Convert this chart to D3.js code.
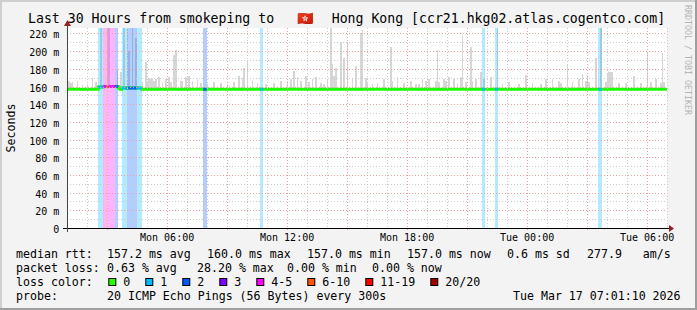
<!DOCTYPE html>
<html>
<head>
<meta charset="utf-8">
<script src="https://cdn.jsdelivr.net/npm/d3@7/dist/d3.min.js"></script>
<style>
  html, body { margin: 0; padding: 0; background: #f3f3f3; }
  svg { display: block; }
  text { font-family: "DejaVu Sans Mono", monospace; fill: #000; }
</style>
</head>
<body>
<svg id="canvas" width="697" height="310"></svg>
<script>
// --- data ---
const timeRange = ['Mon 01:01:10', 'Tue 07:01:10']
const xLabelTimes = ['Mon 06:00', 'Mon 12:00', 'Mon 18:00', 'Tue 00:00', 'Tue 06:00']
const yTicks = [0, 20, 40, 60, 80, 100, 120, 140, 160, 180, 200, 220]

const lossLabels = ['0', '1', '2', '3', '4-5', '6-10', '11-19', '20/20']
const lossColors = ['#26ff00', '#00b8ff', '#0059ff', '#7e00ff', '#ff00ff', '#ff5500', '#ff0000', '#a10000']

// median rtt (ms), in force from each time on
const medianFrom = ['Mon 01:01', 'Mon 02:35', 'Mon 02:50', 'Mon 03:35', 'Mon 03:40', 'Mon 03:45', 'Mon 04:45']
const medianMs = [157.0, 159.5, 160.0, 158.5, 157.0, 158.2, 157.0]

// 5 minute steps with lost pings (out of 20), time = end of step
const lossTimes = ['Mon 01:05', 'Mon 02:40', 'Mon 02:45', 'Mon 02:50', 'Mon 02:55', 'Mon 03:00', 'Mon 03:05',
  'Mon 03:10', 'Mon 03:15', 'Mon 03:20', 'Mon 03:25', 'Mon 03:30', 'Mon 03:35', 'Mon 03:50', 'Mon 03:55',
  'Mon 04:00', 'Mon 04:05', 'Mon 04:10', 'Mon 04:15', 'Mon 04:20', 'Mon 04:25', 'Mon 04:30', 'Mon 04:35',
  'Mon 04:40', 'Mon 04:45', 'Mon 07:55', 'Mon 08:00', 'Mon 10:45', 'Mon 10:50', 'Mon 21:50', 'Mon 21:55',
  'Mon 22:30', 'Mon 22:35', 'Tue 03:40', 'Tue 03:45']
const lossPings = [1, 1, 1, 1, 5, 5, 7,
  4, 4, 4, 4, 2, 2, 1, 1,
  1, 2, 2, 2, 2, 2, 2, 1,
  1, 1, 2, 2, 1, 1, 1, 1,
  1, 1, 1, 1]

// smoke: highest ping (ms) of the steps that rise visibly above the median
const smokeTimes = ['Mon 01:10', 'Mon 01:15', 'Mon 01:20', 'Mon 01:35', 'Mon 01:50', 'Mon 02:05', 'Mon 02:20',
  'Mon 02:30', 'Mon 02:45', 'Mon 03:05',
  'Mon 03:10', 'Mon 03:35', 'Mon 03:45', 'Mon 03:55', 'Mon 04:05', 'Mon 04:10', 'Mon 04:20', 'Mon 04:30',
  'Mon 04:50', 'Mon 05:00', 'Mon 05:05', 'Mon 05:10', 'Mon 05:15', 'Mon 05:20', 'Mon 05:25', 'Mon 05:30',
  'Mon 05:40', 'Mon 05:50', 'Mon 06:00', 'Mon 06:10', 'Mon 06:15', 'Mon 06:25',
  'Mon 06:30', 'Mon 06:45', 'Mon 06:50', 'Mon 07:00', 'Mon 07:10', 'Mon 07:20', 'Mon 07:35', 'Mon 07:45',
  'Mon 08:05', 'Mon 08:25', 'Mon 08:45', 'Mon 09:05', 'Mon 09:25', 'Mon 09:40', 'Mon 09:50', 'Mon 09:55',
  'Mon 10:05', 'Mon 10:20', 'Mon 10:35', 'Mon 11:00', 'Mon 11:25', 'Mon 11:45', 'Mon 12:05', 'Mon 12:15',
  'Mon 12:25', 'Mon 12:35', 'Mon 12:45', 'Mon 13:00', 'Mon 13:10', 'Mon 13:20', 'Mon 13:30', 'Mon 13:45',
  'Mon 13:55', 'Mon 14:05',
  'Mon 14:15', 'Mon 14:20', 'Mon 14:25', 'Mon 14:30', 'Mon 14:45', 'Mon 14:55', 'Mon 15:05', 'Mon 15:20',
  'Mon 15:30', 'Mon 15:45', 'Mon 15:50', 'Mon 16:00', 'Mon 16:05', 'Mon 16:20', 'Mon 16:35', 'Mon 16:55',
  'Mon 17:15', 'Mon 17:20', 'Mon 17:35', 'Mon 17:55', 'Mon 18:15', 'Mon 18:30', 'Mon 18:40', 'Mon 18:50',
  'Mon 19:00', 'Mon 19:10', 'Mon 19:30', 'Mon 19:35', 'Mon 19:40', 'Mon 19:55', 'Mon 20:00', 'Mon 20:10',
  'Mon 20:25', 'Mon 20:35', 'Mon 20:45', 'Mon 20:50', 'Mon 21:00', 'Mon 21:15', 'Mon 21:20', 'Mon 21:30',
  'Mon 21:45', 'Mon 21:55', 'Mon 22:15', 'Mon 22:35', 'Mon 22:50', 'Mon 23:10', 'Mon 23:40', 'Tue 00:00',
  'Tue 00:20', 'Tue 00:45', 'Tue 01:00', 'Tue 01:20', 'Tue 01:40', 'Tue 01:45', 'Tue 02:05', 'Tue 02:20',
  'Tue 02:40', 'Tue 02:50', 'Tue 03:00', 'Tue 03:05', 'Tue 03:10', 'Tue 03:30', 'Tue 03:45', 'Tue 04:00',
  'Tue 04:05', 'Tue 04:10', 'Tue 04:15', 'Tue 04:20', 'Tue 04:40', 'Tue 05:00', 'Tue 05:25', 'Tue 05:45',
  'Tue 06:05', 'Tue 06:15', 'Tue 06:30', 'Tue 06:45', 'Tue 06:50', 'Tue 06:55']
const smokeTop = [166, 164, 165, 166, 162, 163, 170,
  165, 226, 226,
  226, 179, 177, 226, 226, 200, 226, 215,
  165, 188, 166, 170, 168, 170, 166, 168,
  171, 164, 168, 171, 165, 196,
  201, 166, 166, 171, 172, 166, 168, 164,
  163, 165, 164, 163, 165, 172, 170, 181,
  190, 166, 164, 163, 164, 166, 166, 168,
  178, 171, 166, 172, 165, 168, 171, 164,
  163, 168,
  226, 185, 172, 181, 210, 192, 210, 168,
  183, 221, 224, 170, 165, 163, 164, 168,
  205, 166, 171, 164, 166, 163, 163, 168,
  166, 168, 166, 201, 165, 168, 166, 171,
  168, 164, 171, 217, 165, 205, 166, 168,
  177, 168, 171, 226, 163, 165, 163, 173,
  164, 163, 168, 168, 166, 164, 186, 165,
  169, 174, 166, 173, 165, 192, 226, 165,
  175, 176, 176, 176, 164, 164, 172, 164,
  199, 165, 168, 164, 198, 165]

const titleParts = ['Last 30 Hours from smokeping to', '\u{1F1ED}\u{1F1F0}', 'Hong Kong [ccr21.hkg02.atlas.cogentco.com]']
const rttLine = ['median rtt:', '157.2 ms avg', '160.0 ms max', '157.0 ms min', '157.0 ms now', '0.6 ms sd', '277.9   am/s']
const lossLine = ['packet loss:', '0.63 % avg', '28.20 % max', '0.00 % min', '0.00 % now']
const probeLine = ['probe:', '20 ICMP Echo Pings (56 Bytes) every 300s', 'Tue Mar 17 07:01:10 2026']

// --- helpers ---
const when = s => {
    const [day, hm] = s.split(' ')
    const [h, m, sec] = hm.split(':').map(Number)
    return new Date(Date.UTC(2026, 2, day === 'Mon' ? 16 : 17, h, m, sec || 0))
}
const lossClass = p => p === 0 ? 0 : p === 1 ? 1 : p === 2 ? 2 : p === 3 ? 3 : p <= 5 ? 4 : p <= 10 ? 5 : p <= 19 ? 6 : 7

const W = 697, H = 310
const pL = 67, pR = 667, pT = 28, pB = 228
const step = 5 * 60 * 1000
const t0 = when(timeRange[0]), t1 = when(timeRange[1])

const svg = d3.select('#canvas')
const x = d3.scaleUtc().domain([t0, t1]).range([pL, pR])
const y = d3.scaleLinear().domain([0, 226.2]).range([pB, pT])

const spans = medianFrom.map((t, i) => ({ t: when(t), v: medianMs[i] }))
const medianAt = t => {
    let v = spans[0].v
    spans.forEach(s => { if (+s.t <= +t - step / 2) v = s.v })
    return v
}

// background and 3d frame
svg.append('rect').attr('width', W).attr('height', H).attr('fill', '#f3f3f3')
svg.append('rect').attr('width', W).attr('height', 2).attr('fill', '#cfcfcf')
svg.append('rect').attr('width', 2).attr('height', H).attr('fill', '#cfcfcf')
svg.append('rect').attr('y', H - 2).attr('width', W).attr('height', 2).attr('fill', '#9e9e9e')
svg.append('rect').attr('x', W - 2).attr('width', 2).attr('height', H).attr('fill', '#9e9e9e')

svg.append('rect').attr('x', pL).attr('y', pT).attr('width', pR - pL).attr('height', pB - pT).attr('fill', '#fff')

svg.append('clipPath').attr('id', 'plotclip')
    .append('rect').attr('x', pL).attr('y', pT).attr('width', pR - pL).attr('height', pB - pT)
const plot = svg.append('g').attr('clip-path', 'url(#plotclip)')

// smoke
const smoke = smokeTimes.map((t, i) => ({ t: when(t), top: smokeTop[i] }))
plot.selectAll('rect.smoke').data(smoke).join('rect')
    .attr('class', 'smoke')
    .attr('x', d => x(d.t - step))
    .attr('width', d => x(d.t) - x(d.t - step))
    .attr('y', d => y(d.top))
    .attr('height', d => y(medianAt(d.t)) - y(d.top))
    .attr('fill', '#d6d6d6')
    .attr('shape-rendering', 'crispEdges')

// loss background bars
const loss = lossTimes.map((t, i) => ({ t: when(t), p: lossPings[i] }))
plot.selectAll('rect.loss').data(loss).join('rect')
    .attr('class', 'loss')
    .attr('x', d => x(d.t - step))
    .attr('width', d => x(d.t) - x(d.t - step))
    .attr('y', pT)
    .attr('height', pB - pT)
    .attr('fill', d => lossColors[lossClass(d.p)])
    .attr('fill-opacity', 0.3)
    .attr('shape-rendering', 'crispEdges')

// grid
const grid = svg.append('g').attr('fill', 'none').attr('stroke-dasharray', '1,2').attr('shape-rendering', 'crispEdges')
const hours = d3.utcHour.range(t0, t1)
hours.forEach(h => {
    const major = h.getUTCHours() % 3 === 0
    grid.append('line')
        .attr('x1', Math.round(x(h)) + 0.5).attr('x2', Math.round(x(h)) + 0.5)
        .attr('y1', pT).attr('y2', major ? pB + 3 : pB)
        .attr('stroke', major ? '#eca0a0' : '#cccccc')
})
d3.range(10, 226, 10).forEach(v => {
    const major = v % 20 === 0
    grid.append('line')
        .attr('x1', pL).attr('x2', pR)
        .attr('y1', Math.round(y(v)) + 0.5).attr('y2', Math.round(y(v)) + 0.5)
        .attr('stroke', major ? '#eca0a0' : '#cccccc')
})

// median line, coloured by loss
const medianLine = d3.line()
    .x(d => x(d.t))
    .y(d => y(d.v))
    .curve(d3.curveStepAfter)
plot.append('path')
    .datum(spans.concat([{ t: t1, v: spans[spans.length - 1].v }]))
    .attr('d', medianLine)
    .attr('fill', 'none')
    .attr('stroke', '#1cff00')
    .attr('stroke-width', 3)
plot.selectAll('line.lossmed').data(loss).join('line')
    .attr('class', 'lossmed')
    .attr('x1', d => x(d.t - step)).attr('x2', d => x(d.t))
    .attr('y1', d => y(medianAt(d.t))).attr('y2', d => y(medianAt(d.t)))
    .attr('stroke', d => lossColors[lossClass(d.p)])
    .attr('stroke-width', 3)

// axes
const xAxis = svg.append('g')
    .attr('transform', `translate(0,${pB})`)
    .call(d3.axisBottom(x).tickValues(xLabelTimes.map(when)).tickFormat(d3.utcFormat('%a %H:%M')).tickSize(0).tickPadding(6))
xAxis.select('.domain').remove()
xAxis.selectAll('text').attr('font-size', 10).attr('font-family', '"DejaVu Sans Mono", monospace')

const yAxis = svg.append('g')
    .attr('transform', `translate(${pL},0)`)
    .call(d3.axisLeft(y).tickValues(yTicks).tickFormat(d => d === 0 ? '0' : d + ' m').tickSize(0).tickPadding(7.7))
yAxis.select('.domain').remove()
yAxis.selectAll('text').attr('font-size', 10).attr('dy', '0.45em').attr('font-family', '"DejaVu Sans Mono", monospace')

svg.append('line').attr('x1', pL - 4).attr('x2', pR + 3).attr('y1', pB + 0.5).attr('y2', pB + 0.5)
    .attr('stroke', '#000')
svg.append('line').attr('x1', pL + 0.5).attr('x2', pL + 0.5).attr('y1', pB + 4).attr('y2', pT - 3)
    .attr('stroke', '#444')
svg.append('path').attr('d', `M${pL - 3},${pT - 2} L${pL + 4},${pT - 2} L${pL + 0.5},${pT - 8} Z`).attr('fill', '#961e1e')
svg.append('path').attr('d', `M${pR + 2},${pB - 3} L${pR + 2},${pB + 4} L${pR + 7},${pB + 0.5} Z`).attr('fill', '#961e1e')

// title (three pieces so the flag keeps the width it has in the original) and side texts
const titleX = [28, 305, 331.7]
titleParts.forEach((s, i) => svg.append('text')
    .attr('x', titleX[i]).attr('y', 23)
    .attr('text-anchor', i === 1 ? 'middle' : 'start')
    .attr('font-size', 13.2).text(s))
svg.append('text').attr('transform', 'translate(15,128) rotate(-90)')
    .attr('text-anchor', 'middle').attr('font-size', 11.6).text('Seconds')
svg.append('text').attr('transform', 'translate(685,5) rotate(90)')
    .attr('font-size', 8.3).style('fill', '#b4b4b4').text('RRDTOOL / TOBI OETIKER')

// legend
const legend = svg.append('g').attr('font-size', 11.6)
const legendText = (s, lx, ly) => legend.append('text')
    .attr('xml:space', 'preserve').attr('x', lx).attr('y', ly).text(s)
const rttX = [16, 107, 207, 307, 407, 507, 587]
rttLine.forEach((s, i) => legendText(s, rttX[i], 258))
const lossX = [16, 107, 197, 287, 372]
lossLine.forEach((s, i) => legendText(s, lossX[i], 272))
legendText('loss color:', 16, 286)
let lx = 108.3
lossLabels.forEach((s, i) => {
    legend.append('rect').attr('x', lx + 0.5).attr('y', 278.5).attr('width', 7).attr('height', 7)
        .attr('fill', lossColors[i]).attr('stroke', '#000')
    legendText(s, lx + 15, 286)
    lx += 15 + s.length * 7 + 15
})
const probeX = [16, 107, 513]
probeLine.forEach((s, i) => legendText(s, probeX[i], 300))
</script>
</body>
</html>
